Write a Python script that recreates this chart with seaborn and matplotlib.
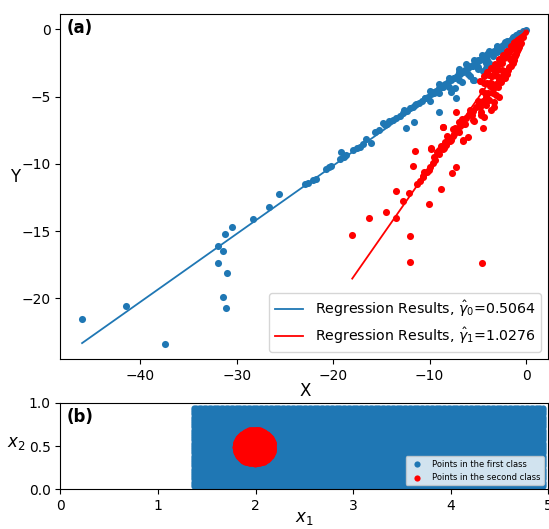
import numpy as np
import pandas as pd
import matplotlib
matplotlib.use('Agg')
import matplotlib.pyplot as plt
import seaborn as sns

# ---- panel (a): two classes of points and their regression slopes ----
gamma0 = 0.5064
gamma1 = 1.0276

blue_x = [-46.05, -41.45, -37.41, -31.92, -31.19, -30.51, -31.40, -31.92, -30.98, -31.40, -31.16,
          -28.29, -26.67, -25.64, -22.97, -22.60, -22.10, -21.80, -20.78, -20.40, -20.20, -19.24,
          -19.35, -18.90, -18.65, -17.90, -17.50, -17.27, -16.90, -16.58, -16.06, -15.70, -15.30,
          -14.86, -14.68, -14.40, -14.17, -13.80, -13.47, -13.10, -12.80, -12.61, -12.30,
          -12.0, -11.7, -11.4, -11.1, -10.8, -10.5, -10.2, -9.9, -9.6, -9.3, -9.0, -8.7, -8.4, -8.1,
          -7.8, -7.5, -7.2, -6.9, -6.6, -6.3, -6.0, -5.7, -5.4, -5.1, -4.8, -4.5, -4.2, -3.9, -3.6,
          -3.3, -3.0, -2.7, -2.4, -2.1, -1.8, -1.5, -1.2, -0.9, -0.6, -0.3, -0.05,
          -10.0, -9.0, -8.0, -7.0, -6.0, -5.0, -4.0, -3.0, -2.0, -1.0,
          -10.0, -9.0, -8.0, -7.0, -6.0, -5.0, -4.0, -3.0, -2.0, -1.0,
          -11.5, -10.5, -9.5, -8.5, -7.5, -6.5, -5.5, -4.5, -3.5, -2.5, -1.5, -0.5,
          -7.0, -6.2, -5.4, -4.6, -3.8, -3.0, -2.2, -1.4, -0.7,
          -6.6, -5.8, -5.0, -4.2, -3.4, -2.6, -1.8, -1.1,
          -12.44, -11.65, -8.98, -8.64, -7.33, -7.77, -7.25, -5.36, -5.53, -4.50, -4.20, -3.80]
blue_y = [-21.56, -20.57, -23.38, -16.09, -15.24, -14.68, -16.46, -17.38, -18.14, -19.88, -20.72,
          -14.10, -13.19, -12.25, -11.53, -11.45, -11.20, -11.10, -10.41, -10.25, -10.16, -9.10,
          -9.67, -9.52, -9.35, -8.97, -8.80, -8.73, -8.50, -8.18, -8.48, -7.61, -7.50,
          -6.99, -7.11, -7.00, -6.80, -6.75, -6.62, -6.45, -6.25, -6.00, -6.05,
          -5.85, -5.75, -5.55, -5.45, -5.30, -5.10, -5.00, -4.80, -4.70, -4.55, -4.35, -4.30, -4.10, -3.95,
          -3.80, -3.65, -3.50, -3.35, -3.20, -3.05, -2.90, -2.75, -2.60, -2.45, -2.30, -2.15, -2.00, -1.85, -1.75,
          -1.60, -1.45, -1.30, -1.15, -1.00, -0.85, -0.72, -0.58, -0.43, -0.29, -0.14, -0.03,
          -4.55, -4.10, -3.60, -3.15, -2.70, -2.25, -1.80, -1.35, -0.90, -0.45,
          -5.30, -4.75, -4.30, -3.80, -3.30, -2.80, -2.30, -1.70, -1.15, -0.60,
          -5.60, -5.10, -4.65, -4.15, -3.65, -3.20, -2.70, -2.20, -1.72, -1.22, -0.73, -0.25,
          -2.95, -2.60, -2.25, -1.93, -1.60, -1.26, -0.92, -0.59, -0.29,
          -3.90, -3.45, -2.95, -2.50, -2.02, -1.55, -1.07, -0.66,
          -7.32, -6.92, -6.12, -4.27, -4.39, -4.64, -5.13, -3.74, -3.77, -3.08, -2.90, -2.50]

red_x = [-18.03, -16.34, -14.51, -13.47, -13.47, -12.79, -12.09, -11.99, -12.02, -10.09, -8.78, -4.60,
         -11.71, -11.50, -10.72, -10.54, -10.09, -9.84, -9.50, -8.98, -8.57, -8.12, -7.71, -7.25,
         -7.53, -6.91, -6.50, -6.05, -5.43, -4.50, -4.63, -4.32, -7.25, -8.64, -6.57, -9.84,
         -2.77, -3.28, -3.63, -4.66, -5.53, -3.11, -3.80, -4.15, -3.28,
         -9.2, -8.8, -8.4, -8.0, -7.6, -7.2, -6.9, -6.57, -6.2, -5.9, -5.53, -5.2, -4.9, -4.5, -4.2,
         -3.9, -3.46, -3.1, -2.76, -2.4, -2.1, -1.8, -1.5, -1.2, -0.9, -0.6, -0.3, -0.1,
         -8.5, -7.8, -7.0, -6.3, -5.6, -4.8, -4.0, -8.2, -7.4, -6.6, -5.8, -5.0, -4.3, -3.6,
         -4.8, -4.4, -4.0, -3.6, -3.2, -2.8, -2.4, -2.0, -1.6, -1.2, -0.8, -0.4,
         -4.6, -4.0, -3.5, -3.0, -2.5, -2.0, -1.5, -1.0, -0.5,
         -4.4, -3.8, -3.3, -2.8, -2.3, -1.8, -1.3,
         -2.0, -1.6, -1.3, -1.0, -0.7, -1.7, -2.5, -3.0,
         -2.6, -2.2, -1.9, -1.4, -1.1, -0.8, -0.5, -3.4, -2.9, -3.7,
         -11.3, -11.0, -10.7, -10.3, -10.0, -9.7, -9.4, -9.0, -8.6, -8.3, -7.9, -7.5]
red_y = [-15.29, -14.05, -13.60, -12.00, -14.00, -12.77, -12.15, -15.37, -17.28, -13.01, -11.87, -17.33,
         -10.16, -9.05, -10.95, -10.59, -10.46, -8.92, -9.47, -8.97, -7.29, -8.23, -10.66, -10.22,
         -7.41, -6.87, -8.30, -7.98, -6.82, -7.36, -6.37, -6.50, -6.12, -7.24, -8.23, -8.85,
         -5.01, -5.38, -6.00, -6.12, -6.74, -4.88, -5.26, -5.63, -5.75,
         -9.1, -8.7, -8.4, -8.1, -7.9, -7.5, -7.2, -7.0, -6.6, -6.35, -6.1, -5.8, -5.55, -5.3, -5.0,
         -4.75, -4.4, -4.05, -3.75, -3.4, -3.1, -2.8, -2.4, -2.0, -1.6, -1.1, -0.6, -0.2,
         -8.8, -8.2, -7.6, -7.0, -6.4, -5.8, -5.2, -7.9, -7.3, -6.7, -6.0, -5.3, -4.7, -4.0,
         -3.85, -3.5, -3.2, -2.85, -2.55, -2.2, -1.9, -1.6, -1.25, -0.95, -0.65, -0.32,
         -4.6, -4.0, -3.5, -3.0, -2.5, -2.0, -1.5, -1.0, -0.5,
         -4.0, -3.4, -3.0, -2.6, -2.1, -1.7, -1.2,
         -3.3, -2.7, -2.3, -1.8, -1.3, -2.2, -3.0, -3.5,
         -3.9, -3.6, -3.0, -2.5, -2.0, -1.5, -1.0, -4.7, -4.3, -4.2,
         -11.5, -11.3, -10.9, -10.6, -10.2, -9.9, -9.7, -9.3, -8.9, -8.6, -8.3, -7.8]

# ---- panel (b): class regions ----
first_class_x_range = (1.37, 4.95)
first_class_y_range = (0.04, 0.94)
second_class_centre = (1.99, 0.49)
second_class_radius = 0.20
grid_step = 0.025

blue = pd.DataFrame({'x': blue_x, 'y': blue_y})
red = pd.DataFrame({'x': red_x, 'y': red_y})
blue_line = pd.DataFrame({'x': [blue.x.min(), blue.x.max()]})
blue_line['y'] = gamma0 * blue_line.x
red_line = pd.DataFrame({'x': [red.x.min(), red.x.max()]})
red_line['y'] = gamma1 * red_line.x

gx, gy = np.meshgrid(np.arange(first_class_x_range[0], first_class_x_range[1] + 1e-9, grid_step),
                     np.arange(first_class_y_range[0], first_class_y_range[1] + 1e-9, grid_step))
first_class = pd.DataFrame({'x1': gx.ravel(), 'x2': gy.ravel()})
cx, cy = np.meshgrid(np.arange(second_class_centre[0] - second_class_radius,
                               second_class_centre[0] + second_class_radius + 1e-9, 0.01),
                     np.arange(second_class_centre[1] - second_class_radius,
                               second_class_centre[1] + second_class_radius + 1e-9, 0.01))
inside = (cx - second_class_centre[0]) ** 2 + (cy - second_class_centre[1]) ** 2 <= second_class_radius ** 2
second_class = pd.DataFrame({'x1': cx[inside], 'x2': cy[inside]})

fig = plt.figure(figsize=(5.49, 5.29), dpi=100)
ax1 = fig.add_axes([0.110, 0.3214, 0.8886, 0.6527])
ax2 = fig.add_axes([0.110, 0.075, 0.8886, 0.1637])

sns.scatterplot(data=blue, x='x', y='y', color='#1f77b4', s=26, linewidth=0, ax=ax1)
sns.scatterplot(data=red, x='x', y='y', color='red', s=26, linewidth=0, ax=ax1)
sns.lineplot(data=blue_line, x='x', y='y', color='#1f77b4', lw=1.3, ax=ax1,
             label=r'Regression Results, $\hat{\gamma}_0$=0.5064')
sns.lineplot(data=red_line, x='x', y='y', color='red', lw=1.3, ax=ax1,
             label=r'Regression Results, $\hat{\gamma}_1$=1.0276')
ax1.set_xlim(-48.3, 2.3)
ax1.set_ylim(-24.5, 1.16)
ax1.set_xticks([-40, -30, -20, -10, 0])
ax1.set_yticks([0, -5, -10, -15, -20])
ax1.tick_params(labelsize=10)
ax1.set_xlabel('X', fontsize=12, va='center')
ax1.xaxis.set_label_coords(0.501, -0.093)
ax1.set_ylabel('Y', fontsize=12, rotation=0, va='center')
ax1.yaxis.set_label_coords(-0.093, 0.527)
ax1.legend(loc='lower right', fontsize=10.2)
ax1.text(0.012, 0.985, '(a)', transform=ax1.transAxes, fontsize=12, fontweight='bold',
         va='top', ha='left')

sns.scatterplot(data=first_class, x='x1', y='x2', color='#1f77b4', s=20, linewidth=0, ax=ax2,
                label='Points in the first class')
sns.scatterplot(data=second_class, x='x1', y='x2', color='red', s=20, linewidth=0, ax=ax2,
                label='Points in the second class')
ax2.set_xlim(0, 5)
ax2.set_ylim(0, 1)
ax2.set_xticks([0, 1, 2, 3, 4, 5])
ax2.set_yticks([0.0, 0.5, 1.0])
ax2.tick_params(labelsize=10)
ax2.set_xlabel('$x_1$', fontsize=12, va='center')
ax2.xaxis.set_label_coords(0.5, -0.33)
ax2.set_ylabel('$x_2$', fontsize=12, rotation=0, va='center')
ax2.yaxis.set_label_coords(-0.09, 0.53)
ax2.legend(loc='lower right', fontsize=6)
ax2.text(0.012, 0.935, '(b)', transform=ax2.transAxes, fontsize=12, fontweight='bold',
         va='top', ha='left')

fig.savefig('out.png', dpi=100)
